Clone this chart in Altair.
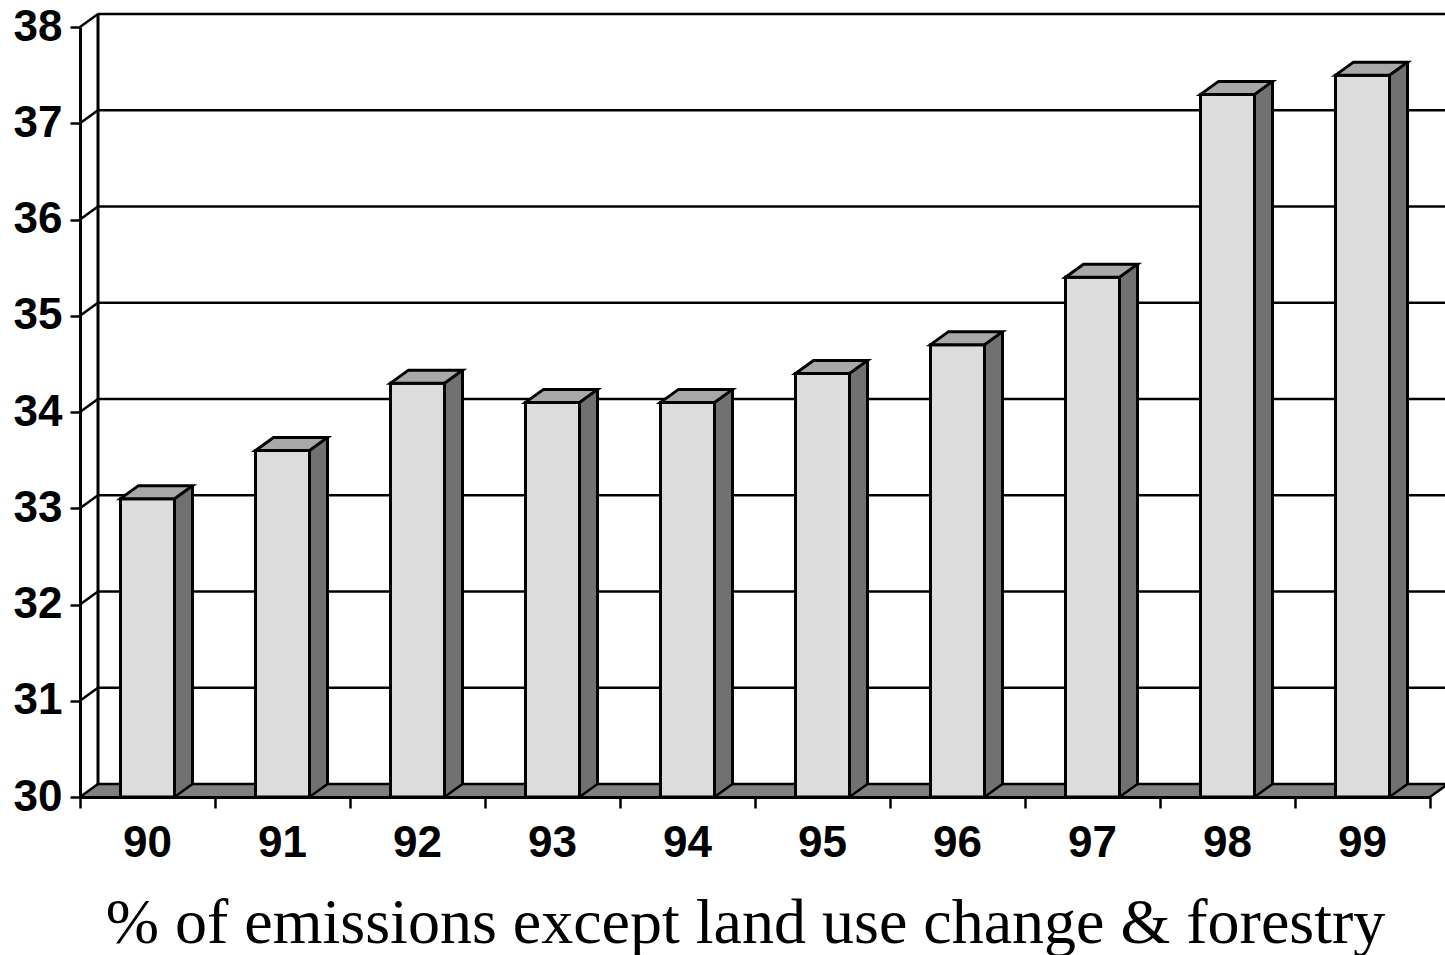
import altair as alt
import pandas as pd

# ---- data -------------------------------------------------------------
years = ["90", "91", "92", "93", "94", "95", "96", "97", "98", "99"]
shares = [33.1, 33.6, 34.3, 34.1, 34.1, 34.4, 34.7, 35.4, 37.3, 37.5]
levels = [30, 31, 32, 33, 34, 35, 36, 37, 38]
caption = "% of emissions except land use change & forestry"

# ---- styling ----------------------------------------------------------
FRONT = "#dcdcdc"
TOP = "#a8a8a8"
SIDE = "#717171"
FLOOR = "#808080"
DX, DY = 18, -13          # pseudo-3D depth in pixels
BAR_W = 54
HALF = BAR_W / 2
LW = 3                    # column outlines
GW = 2.5                  # wall gridlines

n = len(years)
bars = pd.DataFrame({"year": years, "share": shares})
bars["pos"] = bars.index + 0.5
bars["base"] = levels[0]
grid = pd.DataFrame({"level": levels})
grid["x0"] = 0
grid["x1"] = n + 1
frame = pd.DataFrame({"x0": [0], "x1": [n], "base": [levels[0]], "top": [levels[-1]]})

x_scale = alt.Scale(domain=[0, n], nice=False, zero=False, padding=0)
y_scale = alt.Scale(domain=[levels[0], levels[-1]], nice=False, zero=False, padding=0)

x_axis = alt.Axis(
    values=list(range(n + 1)), labels=False, grid=False,
    tickSize=11, tickWidth=2.5, tickColor="black",
    domainWidth=3, domainColor="black",
    title=caption, titleFont="Liberation Serif", titleFontSize=64,
    titleFontWeight="normal", titleColor="black",
    titleX=665, titleY=145, titleBaseline="alphabetic", titleAlign="center",
    zindex=1,
)
y_axis = alt.Axis(
    values=levels, grid=False, title=None,
    tickSize=10, tickWidth=2.5, tickColor="black",
    domainWidth=3, domainColor="black",
    labelFont="Liberation Sans", labelFontWeight="bold", labelFontSize=44,
    labelColor="black", labelPadding=8,
    zindex=1,
)


def X(field):
    return alt.X(f"{field}:Q", scale=x_scale, axis=x_axis)


def Y(field):
    return alt.Y(f"{field}:Q", scale=y_scale, axis=y_axis)


# ---- floor ------------------------------------------------------------
floor_mid = alt.Chart(frame).mark_rect(
    fill=FLOOR, xOffset=DX, y2Offset=DY, strokeWidth=0
).encode(x=X("x0"), x2="x1:Q", y=Y("base"), y2="base:Q")
floor_left = alt.Chart(frame).mark_point(
    shape=f"M 0 0 L {DX} {DY} L {DX + 1} {DY} L {DX + 1} 0 Z",
    size=4, filled=True, fill=FLOOR, strokeWidth=0, opacity=1,
).encode(x=X("x0"), y=Y("base"))
floor_right = alt.Chart(frame).mark_point(
    shape=f"M 0 0 L 0 {DY} L {DX} {DY} Z",
    size=4, filled=True, fill=FLOOR, strokeWidth=0, opacity=1,
).encode(x=X("x1"), y=Y("base"))
floor_end = alt.Chart(frame).mark_rule(
    x2Offset=DX, y2Offset=DY, strokeWidth=GW, color="black"
).encode(x=X("x1"), x2="x1:Q", y=Y("base"), y2="base:Q")

# ---- back wall --------------------------------------------------------
back_grid = alt.Chart(grid).mark_rule(
    xOffset=DX, x2Offset=DX, yOffset=DY, strokeWidth=GW, color="black"
).encode(x=X("x0"), x2="x1:Q", y=Y("level"))
back_edge = alt.Chart(frame).mark_rule(
    xOffset=DX, yOffset=DY, y2Offset=DY, strokeWidth=3, color="black"
).encode(x=X("x0"), y=Y("base"), y2="top:Q")
connectors = alt.Chart(grid).mark_rule(
    x2Offset=DX, y2Offset=DY, strokeWidth=GW, color="black"
).encode(x=X("x0"), x2="x0:Q", y=Y("level"), y2="level:Q")

# ---- columns ----------------------------------------------------------
side_face = alt.Chart(bars).mark_bar(
    width=DX, xOffset=HALF + DX / 2, yOffset=DY, y2Offset=DY,
    fill=SIDE, strokeWidth=0, orient="vertical",
).encode(x=X("pos"), y=Y("share"), y2="base:Q")
side_foot = alt.Chart(bars).mark_point(
    shape=f"M {HALF} 0 L {HALF} {DY - 1} L {HALF + DX} {DY - 1} L {HALF + DX} {DY} Z",
    size=4, filled=True, fill=SIDE, strokeWidth=0, opacity=1,
).encode(x=X("pos"), y=Y("base"))
front_face = alt.Chart(bars).mark_bar(
    width=BAR_W, fill=FRONT, stroke="black", strokeWidth=LW, orient="vertical",
).encode(x=X("pos"), y=Y("share"), y2="base:Q")
top_face = alt.Chart(bars).mark_point(
    shape=f"M {-HALF} 0 L {HALF} 0 L {HALF + DX} {DY} L {-HALF + DX} {DY} Z",
    size=4, filled=True, fill=TOP, stroke="black", strokeWidth=LW, opacity=1,
    strokeJoin="miter",
).encode(x=X("pos"), y=Y("share"))
side_edge = alt.Chart(bars).mark_rule(
    xOffset=HALF + DX, yOffset=DY, y2Offset=DY, strokeWidth=LW, color="black"
).encode(x=X("pos"), y=Y("share"), y2="base:Q")
side_bottom = alt.Chart(bars).mark_rule(
    xOffset=HALF, x2Offset=HALF + DX, y2Offset=DY, strokeWidth=GW, color="black"
).encode(x=X("pos"), x2="pos:Q", y=Y("base"), y2="base:Q")

year_labels = alt.Chart(bars).mark_text(
    font="Liberation Sans", fontWeight="bold", fontSize=44,
    baseline="middle", dy=47, color="black",
).encode(x=X("pos"), y=Y("base"), text="year:N")

chart = alt.layer(
    floor_mid, floor_left, floor_right,
    back_grid, back_edge, connectors, floor_end,
    side_face, side_foot, front_face, top_face, side_edge, side_bottom,
    year_labels,
).properties(
    width=1350, height=770,
    autosize=alt.AutoSizeParams(type="none"),
    padding={"left": 80, "top": 27, "right": 15, "bottom": 158},
).configure_view(stroke=None)

chart.save("out.html", embed_options={"renderer": "svg", "actions": False})
